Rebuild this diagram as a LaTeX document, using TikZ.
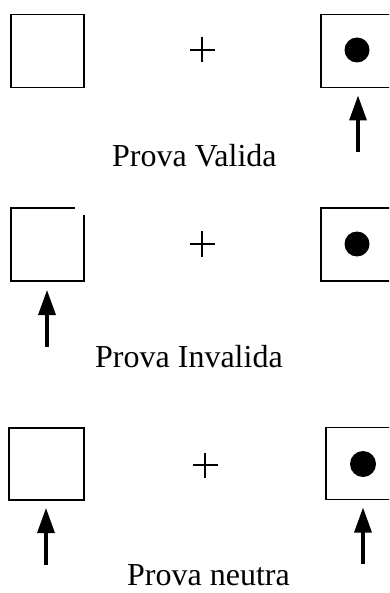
\documentclass[tikz,border=0pt]{standalone}
\usepackage{fontspec}
\setmainfont{Liberation Serif}
\usetikzlibrary{arrows.meta}
\begin{document}
\begin{tikzpicture}[x=1pt,y=-1pt,
  box/.style={rectangle,draw,line width=1.6pt,minimum width=73pt,minimum height=73pt,inner sep=0pt,outer sep=0pt},
  hollow/.style={rectangle,minimum width=73pt,minimum height=73pt,inner sep=0pt,outer sep=0pt},
  edge/.style={line width=1.6pt},
  dot/.style={circle,fill=black,minimum size=25pt,inner sep=0pt},
  plus/.style={line width=1.5pt},
  arr/.style={line width=3.3pt,-{Triangle[length=25pt,width=17pt]}},
  lbl/.style={anchor=base west,inner sep=0pt,font=\fontsize{32}{36}\selectfont}]
\useasboundingbox (0,0) rectangle (389,593);
\clip (0,0) rectangle (389,593);
% row 1
\node[box] (b1l) at (47.5,51) {};
\node[hollow] (b1r) at (357.5,51) {};
\draw[edge] ([xshift=20pt]b1r.north east) -- (b1r.north west) -- (b1r.south west) -- ([xshift=20pt]b1r.south east);
\node[dot] (d1) at (357,50) {};
\coordinate (p1) at (202,50);
\draw[plus] ([xshift=-12.5pt]p1) -- ([xshift=12.5pt]p1);
\draw[plus] ([yshift=-12.5pt]p1) -- ([yshift=12.5pt]p1);
\coordinate (a1) at (358,152);
\draw[arr] (a1) -- ([xshift=0.5pt,yshift=-8pt]b1r.south);
\node[lbl] (t1) at (112,167) {Prova Valida};
% row 2
\node[hollow] (b2l) at (47.5,244.5) {};
\draw[edge] ([xshift=-9pt]b2l.north east) -- (b2l.north west) -- (b2l.south west) -- (b2l.south east) -- ([yshift=-7pt]b2l.north east);
\node[hollow] (b2r) at (357.5,244.5) {};
\draw[edge] ([xshift=20pt]b2r.north east) -- (b2r.north west) -- (b2r.south west) -- ([xshift=20pt]b2r.south east);
\node[dot] (d2) at (357,244) {};
\coordinate (p2) at (202,244);
\draw[plus] ([xshift=-12.5pt]p2) -- ([xshift=12.5pt]p2);
\draw[plus] ([yshift=-12.5pt]p2) -- ([yshift=12.5pt]p2);
\coordinate (a2) at (47,347);
\draw[arr] (a2) -- ([xshift=-0.5pt,yshift=-9pt]b2l.south);
\node[lbl] (t2) at (95,367) {Prova Invalida};
% row 3
\node[box,minimum width=75pt,minimum height=72pt] (b3l) at (46.5,464) {};
\node[hollow,minimum height=72pt] (b3r) at (362.5,463.5) {};
\draw[edge] ([xshift=20pt]b3r.north east) -- (b3r.north west) -- (b3r.south west) -- ([xshift=20pt]b3r.south east);
\node[dot,minimum size=26pt] (d3) at (363,464) {};
\coordinate (p3) at (205,465);
\draw[plus] ([xshift=-12.5pt]p3) -- ([xshift=12.5pt]p3);
\draw[plus] ([yshift=-12.5pt]p3) -- ([yshift=12.5pt]p3);
\coordinate (a3l) at (46,565);
\coordinate (a3r) at (363,564);
\draw[arr] (a3l) -- ([xshift=-0.5pt,yshift=-8pt]b3l.south);
\draw[arr] (a3r) -- ([xshift=0.5pt,yshift=-8pt]b3r.south);
\node[lbl] (t3) at (127,585) {Prova neutra};
\end{tikzpicture}
\end{document}
